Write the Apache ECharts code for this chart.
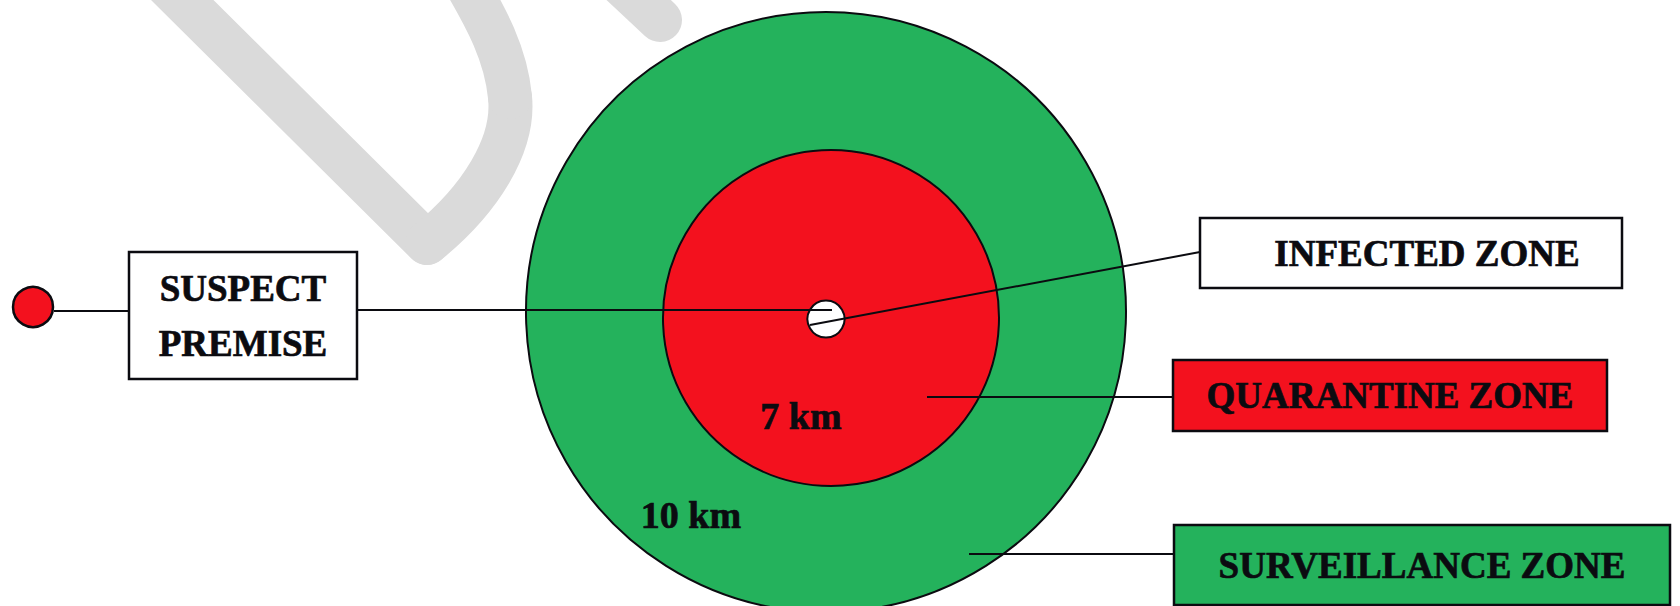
<!DOCTYPE html>
<html>
<head>
<meta charset="utf-8">
<script src="https://cdn.jsdelivr.net/npm/echarts@6/dist/echarts.min.js"></script>
<style>
html,body{margin:0;padding:0;background:#fff;}
#chart{width:1680px;height:606px;}
</style>
</head>
<body>
<div id="chart"></div>
<script>
// ---- data ----
const zoneNames = ['SURVEILLANCE ZONE', 'QUARANTINE ZONE', 'INFECTED ZONE'];
const zoneRadii = ['10 km', '7 km', ''];
const premiseLines = ['SUSPECT', 'PREMISE'];

// ---- styles ----
const GREEN = '#24b25c';
const RED = '#f3111e';
const INK = '#0b0b10';
const FONT = '"Liberation Serif", "DejaVu Serif", serif';
const WM = '#dadada';

const chart = echarts.init(document.getElementById('chart'), null, {renderer: 'svg'});

function circlePie(name, center, r, color, z) {
  return {
    type: 'pie', center: center, radius: [0, r], silent: true, animation: false,
    z: z, label: {show: false}, labelLine: {show: false},
    itemStyle: {color: color, borderColor: INK, borderWidth: 2},
    data: [{name: name, value: 1}]
  };
}

const series = [
  circlePie(zoneNames[0], [826, 312], 300, GREEN, 2),
  circlePie(zoneNames[1], [831, 318], 168, RED, 3),
  circlePie(zoneNames[2], [826, 319], 18.5, '#ffffff', 4)
];

function line(x1, y1, x2, y2) {
  return {type: 'line', z: 100, shape: {x1: x1, y1: y1, x2: x2, y2: y2}, style: {stroke: INK, lineWidth: 2}};
}
function box(x, y, w, h, fill, text, dx) {
  return {
    type: 'group', z: 100,
    children: [
      {type: 'rect', z: 100, shape: {x: x, y: y, width: w, height: h},
       style: {fill: fill, stroke: INK, lineWidth: 2.5}},
      {type: 'text', z: 101, x: x + w / 2 + (dx || 0), y: y + h / 2,
       style: {text: text, font: 'bold 37px ' + FONT, fill: INK, stroke: INK, lineWidth: 0.7,
               align: 'center', verticalAlign: 'middle', lineHeight: 55}}
    ]
  };
}
function label(x, y, text) {
  return {type: 'text', z: 100, x: x, y: y,
    style: {text: text, font: 'bold 38px ' + FONT, fill: INK, stroke: INK, lineWidth: 0.7,
            align: 'center', verticalAlign: 'middle'}};
}
const wmStyle = {fill: 'none', stroke: WM, lineWidth: 44, lineCap: 'round', lineJoin: 'round'};

const graphic = [
  // watermark
  {type: 'line', z: 0, shape: {x1: 150, y1: -32, x2: 427, y2: 243}, style: wmStyle},
  {type: 'bezierCurve', z: 0, shape: {x1: 427, y1: 243, cpx1: 480, cpy1: 200, cpx2: 515, cpy2: 145, x2: 510, y2: 97}, style: wmStyle},
  {type: 'bezierCurve', z: 0, shape: {x1: 510, y1: 97, cpx1: 506, cpy1: 55, cpx2: 488, cpy2: 20, x2: 458, y2: -30}, style: wmStyle},
  {type: 'line', z: 0, shape: {x1: 612, y1: -25, x2: 660, y2: 20}, style: wmStyle},
  // suspect premise marker
  {type: 'circle', z: 100, shape: {cx: 33, cy: 307, r: 20}, style: {fill: RED, stroke: INK, lineWidth: 2.5}},
  line(54, 311, 129, 311),
  box(129, 252, 228, 127, '#ffffff', premiseLines.join('\n')),
  line(357, 310, 832, 310),
  // infected
  line(810, 325, 1200, 252),
  box(1200, 218, 422, 70, '#ffffff', zoneNames[2], 16),
  // quarantine
  line(927, 397, 1173, 397),
  box(1173, 360, 434, 71, RED, zoneNames[1]),
  // surveillance
  line(969, 554, 1174, 554),
  box(1174, 525, 496, 80, GREEN, zoneNames[0]),
  // radius labels
  label(801, 416, zoneRadii[1]),
  label(691, 515, zoneRadii[0])
];

chart.setOption({
  backgroundColor: '#ffffff',
  animation: false,
  series: series,
  graphic: graphic
});
</script>
</body>
</html>
